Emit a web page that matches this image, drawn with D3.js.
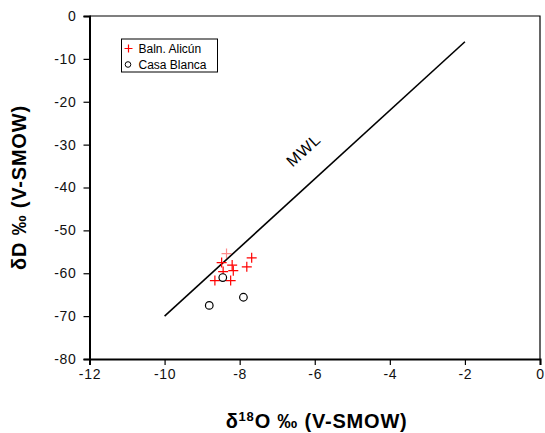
<!DOCTYPE html>
<html>
<head>
<meta charset="utf-8">
<script src="https://cdn.jsdelivr.net/npm/d3@7"></script>
<style>
  body { margin: 0; background: #fff; }
  text { font-family: "Liberation Sans", Arial, sans-serif; }
</style>
</head>
<body>
<div id="main"></div>
<script>
// data
var alicunX = [-7.68, -7.81, -8.20, -8.17, -8.48, -8.44, -8.66, -8.24, -8.35];
var alicunY = [-56.4, -58.5, -58.1, -59.4, -57.5, -59.6, -61.7, -61.7, -55.4];
var casaX = [-8.45, -7.90, -8.81];
var casaY = [-61.0, -65.6, -67.5];
var mwlX = [-10, -2];
var mwlY = [-70, -6];
var xTicks = [-12, -10, -8, -6, -4, -2, 0];
var yTicks = [0, -10, -20, -30, -40, -50, -60, -70, -80];

const margin = { top: 16, right: 5, bottom: 74, left: 89.5 },
    width = 545 - margin.left - margin.right,
    height = 433 - margin.top - margin.bottom;

const svg = d3.select("#main")
    .append("svg")
    .attr("width", 545)
    .attr("height", 433)
    .append("g")
    .attr("transform", `translate(${margin.left}, ${margin.top})`);

const x = d3.scaleLinear().domain([-12, 0]).range([0, width]);
const y = d3.scaleLinear().domain([-80, 0]).range([height, 0]);

// frame top + right
svg.append("path")
    .attr("d", `M0,0H${width}V${height}`)
    .attr("fill", "none")
    .attr("stroke", "#000")
    .attr("stroke-width", 1.2);

const xAxis = svg.append("g")
    .attr("transform", `translate(0, ${height})`)
    .call(d3.axisBottom(x).tickValues(xTicks).tickSize(6).tickPadding(5));
const yAxis = svg.append("g")
    .call(d3.axisLeft(y).tickValues(yTicks).tickSize(6).tickPadding(5));

[xAxis, yAxis].forEach(function (a) {
    a.select(".domain").attr("stroke-width", 2);
    a.selectAll(".tick line").attr("stroke-width", 1.2);
    a.selectAll("text")
        .style("font-family", "Liberation Sans, Arial, sans-serif")
        .style("font-size", "14px")
        .style("letter-spacing", "0.7px")
        .attr("fill", "#111");
});
xAxis.selectAll("text").attr("dy", "0.95em").attr("y", 7);
yAxis.selectAll("text").attr("x", -13);
// plain hyphen like the original
svg.selectAll(".tick text").text(function (d) { return String(d); });

// meteoric water line
svg.append("line")
    .attr("x1", x(mwlX[0])).attr("y1", y(mwlY[0]))
    .attr("x2", x(mwlX[1])).attr("y2", y(mwlY[1]))
    .attr("stroke", "#000")
    .attr("stroke-width", 1.6);

const ang = Math.atan2(y(mwlY[1]) - y(mwlY[0]), x(mwlX[1]) - x(mwlX[0])) * 180 / Math.PI;
svg.append("text")
    .attr("transform", `translate(${x(-6.3)}, ${y(-31.3)}) rotate(${ang})`)
    .attr("text-anchor", "middle")
    .attr("dy", "0.35em")
    .style("font-size", "16px")
    .style("letter-spacing", "0.8px")
    .text("MWL");

// Baln. Alicún crosses
const cs = 5;
svg.append("g")
    .selectAll("path")
    .data(alicunX)
    .join("path")
    .attr("d", function (d, i) {
        var cx = x(d), cy = y(alicunY[i]);
        return `M${cx - cs},${cy}H${cx + cs}M${cx},${cy - cs}V${cy + cs}`;
    })
    .attr("stroke", "#ff0000")
    .attr("stroke-width", 1.2)
    .attr("opacity", function (d, i) { return i == 8 ? 0.45 : 1; });

// Casa Blanca circles
svg.append("g")
    .selectAll("circle")
    .data(casaX)
    .join("circle")
    .attr("cx", function (d) { return x(d); })
    .attr("cy", function (d, i) { return y(casaY[i]); })
    .attr("r", 3.8)
    .attr("fill", "#fff")
    .attr("stroke", "#000")
    .attr("stroke-width", 1.2);

// legend
const lg = svg.append("g").attr("transform", `translate(${121.5 - margin.left}, ${39 - margin.top})`);
lg.append("rect")
    .attr("width", 96).attr("height", 33)
    .attr("fill", "#fff").attr("stroke", "#000").attr("stroke-width", 1);
lg.append("path")
    .attr("d", "M3,9.5H11M7,5.5V13.5")
    .attr("stroke", "#ff0000").attr("stroke-width", 1.2);
lg.append("text").attr("x", 17).attr("y", 14).style("font-size", "12px").text("Baln. Alicún");
lg.append("circle").attr("cx", 6.5).attr("cy", 25.5).attr("r", 2.8)
    .attr("fill", "#fff").attr("stroke", "#000").attr("stroke-width", 1);
lg.append("text").attr("x", 17).attr("y", 29.5).style("font-size", "12px").text("Casa Blanca");

// axis titles
const xt = svg.append("text")
    .attr("x", x(-5.95)).attr("y", 428 - margin.top)
    .attr("text-anchor", "middle")
    .style("font-size", "20px").style("font-weight", "bold")
    .style("letter-spacing", "0.8px");
xt.append("tspan").text("δ");
xt.append("tspan").attr("dy", -7).style("font-size", "13px").text("18");
xt.append("tspan").attr("dy", 7).text("O ‰ (V-SMOW)");

svg.append("text")
    .attr("transform", `translate(${26 - margin.left}, ${y(-40)}) rotate(-90)`)
    .attr("text-anchor", "middle")
    .style("font-size", "20px").style("font-weight", "bold")
    .style("letter-spacing", "0.8px")
    .text("δD ‰ (V-SMOW)");
</script>
</body>
</html>
